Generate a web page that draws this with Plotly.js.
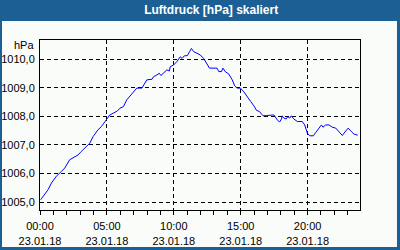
<!DOCTYPE html>
<html><head><meta charset="utf-8">
<script src="https://cdn.plot.ly/plotly-3.0.1.min.js"></script>
<style>html,body{margin:0;padding:0;background:#1c5f94;}#chart{width:400px;height:250px;}</style>
</head><body><div id="chart"></div>
<script>
const day = "2018-01-23";
const times = ["00:03","00:21","00:36","00:51","01:13","01:36","01:51","02:13","02:28","02:51",
"03:05","03:28","03:43","03:58","04:20","04:35","04:58","05:13","05:28","05:47",
"05:59","06:14","06:29","06:52","07:14","07:37","07:52","07:59","08:22","08:29",
"08:44","08:55","09:02","09:14","09:29","09:40","09:44","09:59","10:14","10:29",
"10:37","10:47","11:01","11:11","11:19","11:29","11:44","11:59","12:14","12:29",
"12:40","13:14","13:22","13:34","13:40","13:52","14:06","14:22","14:33","14:44",
"14:59","15:14","15:29","15:45","15:59","16:11","16:24","16:40","16:56","17:14",
"17:29","17:44","17:54","18:03","18:06","18:13","18:24","18:31","18:40","18:47",
"18:58","19:14","19:36","19:47","19:54","19:59","20:10","20:26","20:36","20:51",
"21:02","21:09","21:21","21:36","21:51","22:06","22:20","22:36","22:43","22:55",
"23:02","23:16","23:28","23:45"];
const pressure = [1005.08,1005.26,1005.43,1005.66,1005.90,1006.07,1006.19,1006.48,1006.54,1006.65,
1006.77,1006.94,1007.06,1007.29,1007.53,1007.64,1007.88,1008.05,1008.11,1008.19,
1008.29,1008.34,1008.58,1008.81,1008.99,1008.99,1009.16,1009.28,1009.30,1009.39,
1009.45,1009.51,1009.43,1009.51,1009.63,1009.59,1009.74,1009.80,1009.92,1010.09,
1010.03,1010.12,1010.13,1010.27,1010.38,1010.27,1010.21,1010.15,1010.03,1009.86,
1009.69,1009.69,1009.57,1009.57,1009.69,1009.56,1009.49,1009.28,1009.07,1008.99,
1008.99,1008.86,1008.68,1008.52,1008.37,1008.21,1008.17,1008.02,1008.03,1008.05,
1008.05,1007.88,1007.80,1007.91,1008.02,1007.94,1007.91,1007.99,1007.94,1008.02,
1007.91,1007.82,1007.82,1007.70,1007.53,1007.41,1007.32,1007.32,1007.43,1007.59,
1007.70,1007.62,1007.70,1007.70,1007.62,1007.59,1007.47,1007.33,1007.41,1007.53,
1007.59,1007.47,1007.38,1007.34];
const titleText = "Luftdruck [hPa] skaliert";
const unitLabel = "hPa";

const x = times.map(t => day + " " + t);
const font = {family: "Liberation Sans, Arial, sans-serif", size: 11, color: "#000"};

Plotly.newPlot("chart", [{
  x: x, y: pressure, type: "scatter", mode: "lines",
  line: {color: "#0000ff", width: 1}, hoverinfo: "skip"
}], {
  width: 400, height: 250,
  margin: {l: 40, r: 40, t: 40, b: 40},
  paper_bgcolor: "#1c5f94",
  plot_bgcolor: "#fafcfa",
  separators: ",.",
  showlegend: false,
  font: font,
  title: {text: titleText, x: 0.528, xref: "container", xanchor: "center",
          y: 0.96, yref: "container", yanchor: "middle",
          font: {family: "Liberation Sans, Arial, sans-serif", size: 12, color: "#ffffff", weight: "bold"}},
  shapes: [{type: "rect", xref: "paper", yref: "paper", layer: "below",
            x0: -0.11875, x1: 1.1156, y0: -0.2176, y1: 1.1118,
            fillcolor: "#fafcfa", line: {width: 0}}],
  annotations: [{text: unitLabel, xref: "paper", yref: "paper", x: -0.0125, y: 0.97,
                 xanchor: "right", yanchor: "middle", showarrow: false, font: font}],
  xaxis: {
    type: "date",
    range: [day + " 00:00", day + " 23:55"],
    tick0: day + " 00:00", dtick: 5 * 3600000,
    tickformat: "%H:%M<br>%d.%m.%y",
    ticks: "outside", ticklen: 4, tickcolor: "#000", ticklabelstandoff: 2,
    minor: {dtick: 3600000, ticks: "outside", ticklen: 4, tickcolor: "#000", showgrid: false},
    showgrid: true, gridcolor: "#000", gridwidth: 1, griddash: "4px,3px",
    showline: true, linecolor: "#000", linewidth: 1, mirror: true,
    zeroline: false, fixedrange: true, tickfont: font
  },
  yaxis: {
    range: [1004.72, 1010.676],
    dtick: 1, tick0: 1005, tickformat: ".1f",
    ticks: "", ticklabelstandoff: 2,
    showgrid: true, gridcolor: "#000", gridwidth: 1, griddash: "4px,3px",
    showline: true, linecolor: "#000", linewidth: 1, mirror: true,
    zeroline: false, fixedrange: true, tickfont: font
  }
}, {staticPlot: true});
</script></body></html>
